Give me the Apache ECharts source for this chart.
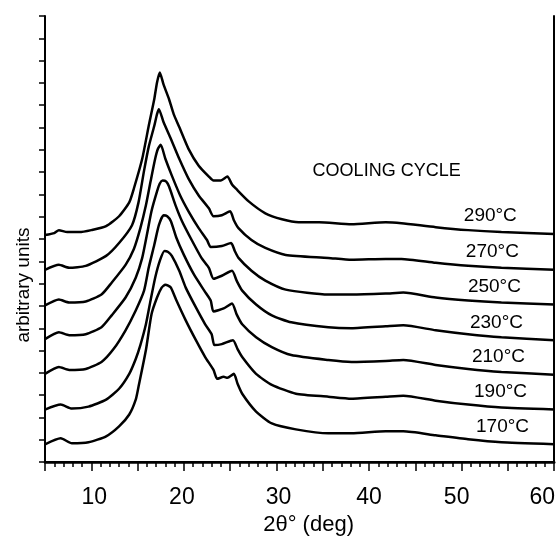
<!DOCTYPE html>
<html>
<head>
<meta charset="utf-8">
<script src="https://cdn.jsdelivr.net/npm/echarts@6/dist/echarts.min.js"></script>
<style>html,body{margin:0;padding:0;background:#fff}#c{width:558px;height:541px}</style>
</head>
<body>
<div id="c"></div>
<script>
// 2θ (deg) vs intensity (arbitrary units), one curve per cooling temperature
const temps = ['290', '270', '250', '230', '210', '190', '170'];
const c290 = [[5.0,229],[6.0,231],[6.5,234],[7.4,232],[8.7,232],[10.0,234],[11.6,238],[13.0,248],[14.1,262],[14.6,276],[15.5,306],[16.2,339],[16.8,366],[17.1,383],[17.4,393],[17.8,381],[18.4,366],[18.9,351],[19.5,338],[20.5,316],[21.6,299],[22.7,288],[23.2,284],[24.0,284],[24.7,288],[25.2,280],[25.6,276],[27.0,263],[28.8,251],[30.6,245],[32.4,242],[34.6,242],[38.1,240],[41.8,242],[43.5,241],[47.2,237],[50.7,234],[54.3,232],[60,230]];
const c270 = [[5.0,194],[6.5,199],[7.6,196],[9.4,198],[11.6,208],[13.0,221],[14.4,239],[15.1,262],[15.7,294],[16.2,318],[16.8,339],[17.1,351],[17.3,356],[17.8,343],[18.6,326],[19.5,306],[20.5,286],[21.6,269],[22.7,256],[23.2,248],[24.1,249],[25.0,253],[25.4,244],[25.9,236],[27.3,224],[28.8,216],[31.0,209],[35.6,206],[38.1,204],[41.8,205],[43.5,205],[47.2,201],[50.7,198],[54.3,196],[60,194]];
const c250 = [[5.0,158],[6.5,164],[7.6,161],[9.4,162],[11.1,169],[12.2,181],[13.7,199],[14.6,215],[15.3,236],[15.9,259],[16.4,283],[16.9,306],[17.2,316],[17.5,320],[18.0,306],[18.7,289],[19.6,269],[20.5,253],[21.6,236],[22.5,224],[22.9,217],[24.1,218],[25.1,221],[25.5,213],[25.9,206],[27.3,193],[28.8,183],[31.0,174],[35.6,169],[38.1,169],[41.8,170],[43.7,171],[47.2,166],[50.7,163],[54.3,161],[60,159]];
const c230 = [[5.0,124],[6.5,131],[7.6,128],[9.4,129],[11.1,136],[12.2,148],[13.7,166],[14.8,186],[15.5,206],[16.0,229],[16.5,253],[17.1,273],[17.4,281],[17.7,284],[18.1,283],[18.4,278],[19.1,259],[19.8,243],[20.9,223],[21.9,206],[22.7,196],[23.2,185],[24.1,188],[25.2,193],[25.7,183],[26.3,173],[27.8,159],[29.5,148],[31.6,141],[35.6,136],[38.1,135],[41.8,137],[43.7,138],[47.2,133],[50.7,129],[54.3,126],[60,123]];
const c210 = [[5.0,89],[6.5,96],[7.6,93],[9.4,94],[11.1,101],[12.4,114],[13.7,133],[14.8,153],[15.7,173],[16.2,196],[16.8,219],[17.3,239],[17.8,249],[18.2,248],[18.6,243],[19.2,226],[20.0,209],[21.1,189],[22.2,173],[22.9,163],[23.2,152],[24.3,155],[25.2,160],[25.7,149],[26.3,139],[27.8,126],[29.5,116],[31.6,108],[35.6,103],[38.1,101],[41.8,102],[43.7,103],[47.2,98],[50.7,94],[54.3,91],[60,88]];
const c190 = [[5.0,53],[6.7,58],[7.9,54],[9.7,56],[11.6,63],[13.0,74],[14.1,89],[14.8,104],[15.3,118],[15.9,139],[16.4,163],[16.9,186],[17.4,203],[17.9,213],[18.3,212],[18.7,208],[19.5,193],[20.2,176],[21.3,156],[22.3,139],[23.0,129],[23.3,118],[24.1,119],[25.3,123],[25.8,114],[26.3,106],[27.8,89],[29.5,78],[32.1,69],[35.6,66],[38.1,64],[41.8,66],[43.7,67],[47.2,62],[50.7,58],[54.3,55],[60,53]];
const c170 = [[5.0,18],[6.7,24],[7.9,19],[9.7,20],[11.6,26],[13.0,36],[14.1,48],[14.8,63],[15.1,76],[15.9,113],[16.5,149],[17.1,166],[17.6,176],[18.0,179],[18.3,178],[18.6,176],[19.2,163],[20.2,143],[21.3,123],[22.3,106],[23.2,93],[23.6,84],[24.3,86],[24.7,85],[25.4,89],[25.8,79],[26.3,69],[27.8,51],[29.5,39],[32.1,33],[35.6,29],[38.1,29],[41.8,31],[43.7,31],[47.2,27],[50.7,23],[54.3,20],[60,18]];
const curves = [c290, c270, c250, c230, c210, c190, c170];
const xTicks = [10, 20, 30, 40, 50, 60];

const FONT = 'Liberation Sans, Arial, sans-serif';
const chart = echarts.init(document.getElementById('c'), null, {renderer: 'canvas'});

const labelShift = {10: [0,0,0,6], 20: [0,4,0,0], 30: [0,0,0,4], 40: [0,0,0,0], 50: [0,10,0,0], 60: [0,24,0,0]};
const rich = {};
xTicks.forEach(t => { rich['s' + t] = {fontSize: 23, color: '#000', fontFamily: FONT, padding: labelShift[t]}; });

const series = curves.map((d, i) => {
  const last = d[d.length - 1][1];
  const mp = [{
    coord: [53.1 + i * 0.22, last + 18],
    label: {formatter: temps[i] + '°C'}
  }];
  if (i === 0) {
    mp.push({coord: [41.9, 294], label: {formatter: 'COOLING CYCLE', fontSize: 18}});
  }
  return {
    type: 'line',
    name: temps[i] + '°C',
    data: d,
    showSymbol: false,
    symbol: 'none',
    smooth: 0.2,
    lineStyle: {color: '#000', width: 2.5},
    animation: false,
    markPoint: {
      symbol: 'rect',
      symbolSize: 1,
      itemStyle: {color: 'rgba(0,0,0,0)'},
      label: {show: true, position: 'inside', color: '#000', fontSize: 19, fontFamily: FONT},
      data: mp,
      animation: false
    }
  };
});

chart.setOption({
  backgroundColor: '#fff',
  animation: false,
  grid: {left: 45, right: 3, top: 16, bottom: 75},
  xAxis: [{
    type: 'value',
    min: 5, max: 60, interval: 5,
    name: '2θ° (deg)',
    nameLocation: 'middle',
    nameGap: 50,
    nameTextStyle: {fontSize: 22, color: '#000', fontFamily: FONT, padding: [0, 0, 0, 18]},
    axisLine: {show: true, lineStyle: {color: '#000', width: 2.5}},
    axisTick: {show: true, inside: false, length: 9, lineStyle: {color: '#000', width: 1.5}},
    minorTick: {show: true, splitNumber: 5, length: 5, lineStyle: {color: '#000', width: 1.5}},
    splitLine: {show: false},
    axisLabel: {
      show: true, margin: 24, showMinLabel: true, showMaxLabel: true,
      color: '#000', fontSize: 23, fontFamily: FONT,
      formatter: v => (xTicks.indexOf(v) >= 0 ? '{s' + v + '|' + v + '}' : ''),
      rich: rich
    }
  }, {
    type: 'value', position: 'top', min: 5, max: 60,
    axisLine: {show: true, lineStyle: {color: '#000', width: 2}},
    axisTick: {show: false}, axisLabel: {show: false}, splitLine: {show: false}
  }],
  yAxis: [{
    type: 'value',
    min: 0, max: 450, interval: 22.5,
    name: 'arbitrary units',
    nameLocation: 'middle',
    nameGap: 12,
    nameTextStyle: {fontSize: 19, color: '#000', fontFamily: FONT, padding: [0, 92, 0, 0]},
    axisLine: {show: true, lineStyle: {color: '#000', width: 2}},
    axisTick: {show: true, inside: false, length: 6, lineStyle: {color: '#000', width: 1.5}},
    axisLabel: {show: false},
    splitLine: {show: false}
  }, {
    type: 'value', position: 'right', min: 0, max: 450,
    axisLine: {show: true, lineStyle: {color: '#000', width: 2}},
    axisTick: {show: false}, axisLabel: {show: false}, splitLine: {show: false}
  }],
  series: series
});
</script>
</body>
</html>
